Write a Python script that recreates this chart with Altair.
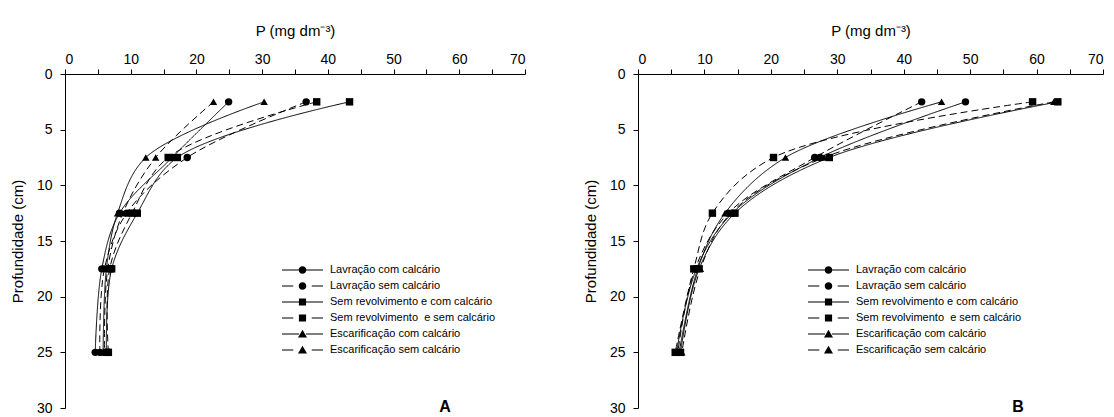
import altair as alt
import pandas as pd

# ---- data ----
depths = [2.5, 7.5, 12.5, 17.5, 25]
labels = [
    "\u00a0Lavração com calcário",
    "\u00a0Lavração sem calcário",
    "Sem revolvimento e com calcário",
    "Sem revolvimento\u00a0 e sem calcário",
    "Escarificação com calcário",
    "Escarificação sem calcário",
]

# Panel A
a_lav_com = [24.9, 16.3, 8.3, 5.6, 4.6]
a_lav_sem = [36.7, 18.6, 9.4, 6.0, 5.3]
a_sr_com = [43.3, 17.1, 11.0, 7.1, 6.3]
a_sr_sem = [38.3, 15.7, 10.2, 6.8, 6.6]
a_esc_com = [30.3, 12.3, 8.0, 6.3, 5.8]
a_esc_sem = [22.6, 13.8, 8.8, 6.5, 6.0]

# Panel B
b_lav_com = [49.3, 27.4, 14.2, 8.8, 5.8]
b_lav_sem = [42.7, 26.6, 13.6, 8.6, 6.0]
b_sr_com = [63.2, 28.8, 14.6, 9.2, 6.4]
b_sr_sem = [59.4, 20.4, 11.2, 8.4, 5.6]
b_esc_com = [45.7, 22.2, 13.1, 9.0, 6.2]
b_esc_sem = [62.6, 28.0, 14.0, 9.4, 6.6]

panel_a = [a_lav_com, a_lav_sem, a_sr_com, a_sr_sem, a_esc_com, a_esc_sem]
panel_b = [b_lav_com, b_lav_sem, b_sr_com, b_sr_sem, b_esc_com, b_esc_sem]

x_ticks = list(range(0, 75, 5))
y_ticks = list(range(0, 35, 5))

# ---- styles ----
FONT = "Liberation Sans"
shapes = ["circle", "circle", "square", "square", "triangle-up", "triangle-up"]
dashes = [[1, 0], [7, 4], [1, 0], [7, 4], [1, 0], [7, 4]]

circ = "M0.185,0A0.185,0.185,0,1,1,-0.185,0A0.185,0.185,0,1,1,0.185,0Z"
sq = "M-0.175,-0.175H0.175V0.175H-0.175Z"
tri = "M0,-0.21L0.22,0.17L-0.22,0.17Z"
solid_bar = "M-1,-0.025H-0.17V0.025H-1ZM0.17,-0.025H1V0.025H0.17Z"
dash_bar = "M-1,-0.025H-0.45V0.025H-1ZM0.45,-0.025H1V0.025H0.45Z"
legend_paths = [
    solid_bar + circ, dash_bar + circ,
    solid_bar + sq, dash_bar + sq,
    solid_bar + tri, dash_bar + tri,
]


def make_df(vals):
    rows = []
    for name, ser in zip(labels, vals):
        for d, p in zip(depths, ser):
            rows.append({"series": name, "depth": d, "P": p})
    return pd.DataFrame(rows)


def panel(vals, letter, width, legx, legy):
    df = make_df(vals)
    base = alt.Chart(df).encode(
        x=alt.X(
            "P:Q",
            scale=alt.Scale(domain=[0, 70], nice=False),
            axis=alt.Axis(
                orient="top",
                values=x_ticks,
                labelExpr="datum.value % 10 === 0 ? datum.label : ''",
                title="P (mg dm⁻³)",
                titleBaseline="alphabetic",
                titleY=-39,
                labelPadding=3,
                tickSize=5,
            ),
        ),
        y=alt.Y(
            "depth:Q",
            scale=alt.Scale(domain=[0, 30], reverse=True, nice=False),
            axis=alt.Axis(
                values=y_ticks,
                title="Profundidade (cm)",
                labelPadding=8,
                tickSize=5,
                titleX=-40,
            ),
        ),
    )
    lines = base.mark_line(color="black", strokeWidth=1, interpolate="catmull-rom").encode(
        strokeDash=alt.StrokeDash(
            "series:N", scale=alt.Scale(domain=labels, range=dashes), legend=None
        ),
        order=alt.Order("depth:Q"),
        detail="series:N",
    )
    points = base.mark_point(filled=True, color="black", opacity=1, size=55).encode(
        shape=alt.Shape(
            "series:N", scale=alt.Scale(domain=labels, range=shapes), legend=None
        )
    )
    leg = (
        base.transform_filter("false")
        .mark_point(filled=True, color="black", opacity=1)
        .encode(
            shape=alt.Shape(
                "series:N",
                scale=alt.Scale(domain=labels, range=legend_paths),
                legend=alt.Legend(
                    orient="none",
                    legendX=legx,
                    legendY=legy,
                    title=None,
                    labelFont=FONT,
                    labelFontSize=11,
                    labelColor="black",
                    labelLimit=400,
                    labelOffset=7,
                    symbolSize=1681,
                    symbolFillColor="black",
                    symbolStrokeWidth=0,
                    symbolOpacity=1,
                    clipHeight=16,
                    rowPadding=0,
                    padding=0,
                ),
            )
        )
    )
    txt = (
        alt.Chart(pd.DataFrame({"t": [letter]}))
        .mark_text(font=FONT, fontSize=16, fontWeight="bold", color="black", baseline="middle")
        .encode(x=alt.value(380), y=alt.value(333), text="t:N")
    )
    return (
        alt.layer(lines, points, leg, txt)
        .resolve_scale(shape="independent")
        .properties(width=width, height=334)
    )


chart = (
    alt.hconcat(
        panel(panel_a, "A", 460, 217, 188),
        panel(panel_b, "B", 465, 170, 188),
        spacing=113,
        bounds="flush",
    )
    .properties(padding={"left": 2, "top": 15, "right": 0, "bottom": 0})
    .configure_view(stroke=None)
    .configure_axis(
        grid=False,
        domainColor="black",
        tickColor="black",
        labelColor="black",
        titleColor="black",
        labelFont=FONT,
        titleFont=FONT,
        labelFontSize=14,
        titleFontSize=15,
        titleFontWeight="normal",
        domainWidth=1,
        tickWidth=1,
    )
)

chart.save("out.html", embed_options={"renderer": "svg", "actions": False})
